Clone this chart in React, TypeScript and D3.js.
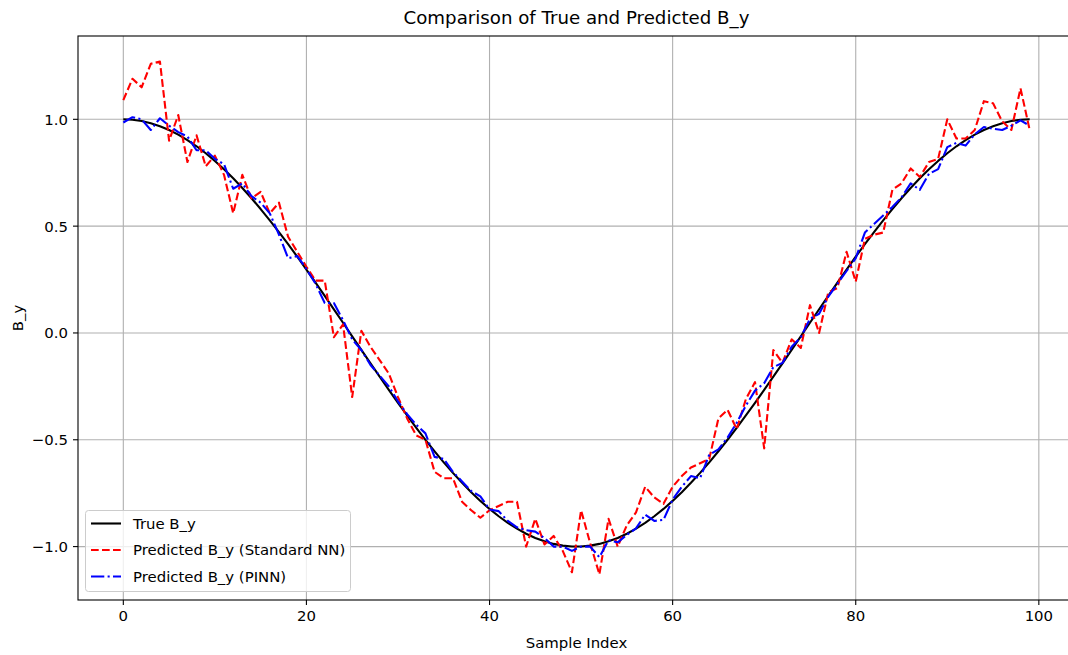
import React, { useRef, useEffect } from 'react';
import * as d3 from 'd3';

// values, one per sample index 0..99
const trueBy: number[] = [
  1.0, 0.998, 0.992, 0.9819, 0.9679, 0.9501, 0.9284, 0.9029, 0.8738, 0.8413,
  0.8053, 0.766, 0.7237, 0.6785, 0.6305, 0.58, 0.5271, 0.4721, 0.4154, 0.3569,
  0.2969, 0.2358, 0.1736, 0.1108, 0.0476, -0.0159, -0.0792, -0.1423, -0.2048, -0.2665,
  -0.3271, -0.3863, -0.4441, -0.5, -0.5539, -0.6056, -0.6549, -0.7015, -0.7453, -0.7861,
  -0.8237, -0.858, -0.8888, -0.9161, -0.9397, -0.9595, -0.9754, -0.9874, -0.9955, -0.9995,
  -0.9995, -0.9955, -0.9874, -0.9754, -0.9595, -0.9397, -0.9161, -0.8888, -0.858, -0.8237,
  -0.7861, -0.7453, -0.7015, -0.6549, -0.6056, -0.5539, -0.5, -0.4441, -0.3863, -0.3271,
  -0.2665, -0.2048, -0.1423, -0.0792, -0.0159, 0.0476, 0.1108, 0.1736, 0.2358, 0.2969,
  0.3569, 0.4154, 0.4721, 0.5271, 0.58, 0.6305, 0.6785, 0.7237, 0.766, 0.8053,
  0.8413, 0.8738, 0.9029, 0.9284, 0.9501, 0.9679, 0.9819, 0.992, 0.998, 1.0,
];

const predStandardNN: number[] = [
  1.09, 1.19, 1.15, 1.26, 1.27, 0.9, 1.02, 0.8, 0.925, 0.78,
  0.83, 0.74, 0.56, 0.74, 0.63, 0.66, 0.56, 0.61, 0.45, 0.38,
  0.31, 0.245, 0.245, -0.02, 0.04, -0.3, 0.01, -0.065, -0.127, -0.19,
  -0.3, -0.4, -0.48, -0.5, -0.65, -0.68, -0.68, -0.79, -0.83, -0.865,
  -0.83, -0.81, -0.79, -0.79, -1.0, -0.87, -0.99, -0.95, -1.02, -1.12,
  -0.83, -0.985, -1.13, -0.87, -1.0, -0.9, -0.84, -0.72, -0.77, -0.8,
  -0.72, -0.67, -0.63, -0.61, -0.59, -0.4, -0.36, -0.45, -0.31, -0.23,
  -0.54, -0.08, -0.14, -0.03, -0.07, 0.13, 0.0, 0.19, 0.21, 0.38,
  0.24, 0.44, 0.46, 0.47, 0.67, 0.7, 0.77, 0.73, 0.8, 0.815,
  1.0, 0.91, 0.91, 0.95, 1.085, 1.075, 0.99, 0.95, 1.145, 0.95,
];

const predPINN: number[] = [
  0.985, 1.01, 1.0, 0.95, 1.005, 0.97, 0.94, 0.92, 0.855, 0.855,
  0.815, 0.79, 0.675, 0.7, 0.64, 0.61, 0.56, 0.46, 0.35, 0.36,
  0.3, 0.23, 0.14, 0.14, 0.06, -0.03, -0.08, -0.15, -0.2, -0.25,
  -0.32, -0.38, -0.43, -0.47, -0.58, -0.59, -0.65, -0.695, -0.74, -0.765,
  -0.826, -0.834, -0.88, -0.91, -0.923, -0.93, -0.96, -1.0, -1.0, -1.02,
  -1.0, -1.0, -1.05, -0.97, -0.98, -0.945, -0.915, -0.85, -0.88, -0.875,
  -0.78, -0.72, -0.67, -0.68, -0.57, -0.545, -0.49, -0.42, -0.34, -0.27,
  -0.235, -0.16, -0.14, -0.065, -0.02, 0.066, 0.09, 0.17, 0.23, 0.29,
  0.35, 0.47, 0.51, 0.55, 0.59, 0.635, 0.7, 0.67, 0.745, 0.767,
  0.87, 0.89, 0.877, 0.93, 0.964, 0.956, 0.95, 0.97, 0.995, 0.97,
];

const seriesNames = ['True B_y', 'Predicted B_y (Standard NN)', 'Predicted B_y (PINN)'];
const xTicks = [0, 20, 40, 60, 80, 100];
const yTicks = [-1.0, -0.5, 0.0, 0.5, 1.0];

const FONT = '"DejaVu Sans", sans-serif';
const LABEL_SIZE = 14.9;

const App = () => {
  const svgRef = useRef<SVGSVGElement>(null);

  useEffect(() => {
    const svg = d3.select(svgRef.current);
    svg.selectAll('*').remove();

    const width = 1068;
    const height = 655;
    // plot frame (right spine falls just past the picture edge)
    const left = 78, right = 1075, top = 36, bottom = 600;

    const n = trueBy.length;
    const xPad = (n - 1) * 0.05;
    const x = d3.scaleLinear().domain([-xPad, n - 1 + xPad]).range([left, right]);

    const all = [...trueBy, ...predStandardNN, ...predPINN];
    const [yMin, yMax] = d3.extent(all) as [number, number];
    const yPad = (yMax - yMin) * 0.05;
    const y = d3.scaleLinear().domain([yMin - yPad, yMax + yPad]).range([bottom, top]);

    svg.attr('width', width).attr('height', height);
    svg.append('rect').attr('width', width).attr('height', height).attr('fill', '#fff');

    // grid
    const grid = svg.append('g').attr('stroke', '#b0b0b0').attr('stroke-width', 1.1);
    grid.selectAll('.gx')
      .data(xTicks)
      .enter()
      .append('line')
      .attr('x1', d => x(d)).attr('x2', d => x(d))
      .attr('y1', top).attr('y2', bottom);
    grid.selectAll('.gy')
      .data(yTicks)
      .enter()
      .append('line')
      .attr('x1', left).attr('x2', right)
      .attr('y1', d => y(d)).attr('y2', d => y(d));

    const line = d3.line<number>()
      .x((_, i) => x(i))
      .y(d => y(d));

    const styles = [
      { data: trueBy, color: '#000000', dash: null },
      { data: predStandardNN, color: '#ff0000', dash: '7.7,3.3' },
      { data: predPINN, color: '#0000ff', dash: '13.3,3.3,2.1,3.3' },
    ];

    styles.forEach(s => {
      svg.append('path')
        .datum(s.data)
        .attr('d', line)
        .attr('fill', 'none')
        .attr('stroke', s.color)
        .attr('stroke-width', 2.1)
        .attr('stroke-dasharray', s.dash)
        .attr('stroke-linejoin', 'round');
    });

    // spines
    svg.append('rect')
      .attr('x', left).attr('y', top)
      .attr('width', right - left).attr('height', bottom - top)
      .attr('fill', 'none').attr('stroke', '#000').attr('stroke-width', 1.1);

    const fmtY = (d: number) => d3.format('.1f')(d).replace('-', '\u2212');

    // x axis
    const xAxis = svg.append('g');
    xAxis.selectAll('line')
      .data(xTicks)
      .enter()
      .append('line')
      .attr('x1', d => x(d)).attr('x2', d => x(d))
      .attr('y1', bottom).attr('y2', bottom + 5)
      .attr('stroke', '#000').attr('stroke-width', 1.1);
    xAxis.selectAll('text')
      .data(xTicks)
      .enter()
      .append('text')
      .attr('x', d => x(d))
      .attr('y', bottom + 10)
      .attr('dy', '0.76em')
      .attr('text-anchor', 'middle')
      .attr('font-family', FONT)
      .attr('font-size', LABEL_SIZE)
      .attr('fill', '#000')
      .text(d => String(d));

    // y axis
    const yAxis = svg.append('g');
    yAxis.selectAll('line')
      .data(yTicks)
      .enter()
      .append('line')
      .attr('x1', left - 5).attr('x2', left)
      .attr('y1', d => y(d)).attr('y2', d => y(d))
      .attr('stroke', '#000').attr('stroke-width', 1.1);
    yAxis.selectAll('text')
      .data(yTicks)
      .enter()
      .append('text')
      .attr('x', left - 10)
      .attr('y', d => y(d))
      .attr('dy', '0.36em')
      .attr('text-anchor', 'end')
      .attr('font-family', FONT)
      .attr('font-size', LABEL_SIZE)
      .attr('fill', '#000')
      .text(d => fmtY(d));

    // labels and title
    svg.append('text')
      .attr('x', (left + right) / 2).attr('y', 648)
      .attr('text-anchor', 'middle')
      .attr('font-family', FONT).attr('font-size', LABEL_SIZE)
      .text('Sample Index');

    svg.append('text')
      .attr('transform', `translate(23, ${(top + bottom) / 2}) rotate(-90)`)
      .attr('text-anchor', 'middle')
      .attr('font-family', FONT).attr('font-size', LABEL_SIZE)
      .text('B_y');

    svg.append('text')
      .attr('x', (left + right) / 2).attr('y', 24)
      .attr('text-anchor', 'middle')
      .attr('font-family', FONT).attr('font-size', 18.2)
      .text('Comparison of True and Predicted B_y');

    // legend
    const legend = svg.append('g').attr('transform', 'translate(85.5, 510.5)');
    legend.append('rect')
      .attr('width', 265).attr('height', 81)
      .attr('rx', 3)
      .attr('fill', '#fff').attr('fill-opacity', 0.8)
      .attr('stroke', '#cccccc').attr('stroke-width', 1);

    styles.forEach((s, i) => {
      const ry = 13 + i * 26.5;
      legend.append('line')
        .attr('x1', 5.5).attr('x2', 35.5)
        .attr('y1', ry).attr('y2', ry)
        .attr('stroke', s.color)
        .attr('stroke-width', 2.1)
        .attr('stroke-dasharray', s.dash);
      legend.append('text')
        .attr('x', 47.5).attr('y', ry)
        .attr('dy', '0.36em')
        .attr('font-family', FONT).attr('font-size', LABEL_SIZE)
        .attr('fill', '#000')
        .text(seriesNames[i]);
    });
  }, []);

  return (
    <svg ref={svgRef} width={1068} height={655} style={{ position: 'absolute', left: 0, top: 0 }}></svg>
  );
};

export default App;
